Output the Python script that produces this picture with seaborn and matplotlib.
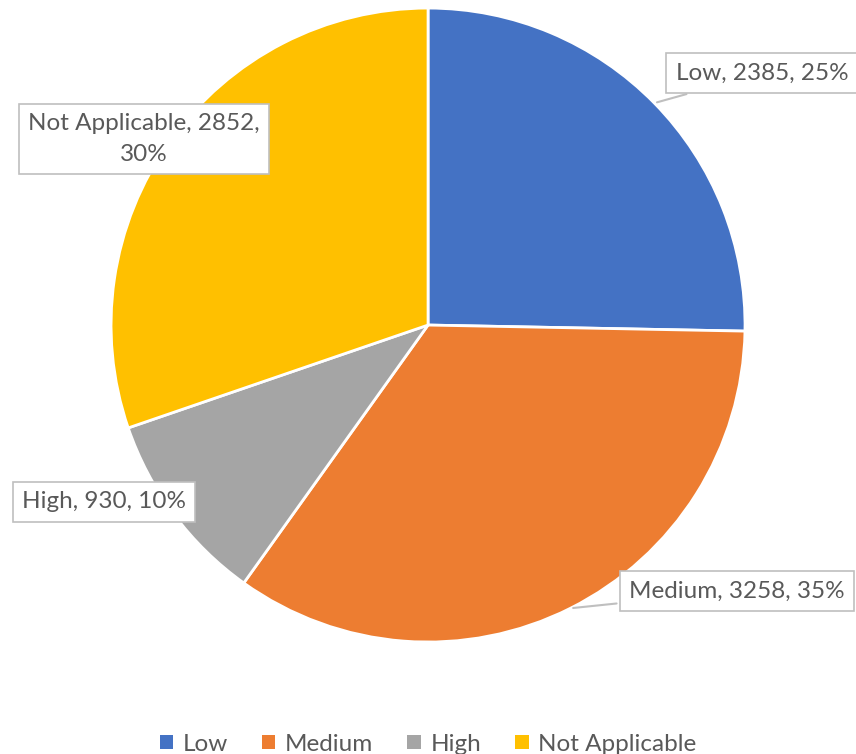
import numpy as np
import seaborn as sns
import matplotlib.pyplot as plt
from matplotlib.patches import Patch

categories = ['Low', 'Medium', 'High', 'Not Applicable']
counts = [2385, 3258, 930, 2852]
colors = ['#4472C4', '#ED7D31', '#A5A5A5', '#FFC000']

sns.set_style('white')
plt.rcParams['font.family'] = ['Lato', 'DejaVu Sans']
text_color = '#595959'

fig = plt.figure(figsize=(8.56, 7.54), dpi=100)
ax = fig.add_axes([0.1297, 0.1485, 0.7407, 0.8408])
palette = sns.color_palette(colors)

wedges, _ = ax.pie(counts, colors=palette, startangle=90, counterclock=False,
                   radius=1, wedgeprops=dict(edgecolor='white', linewidth=2))
ax.set_xlim(-1, 1)
ax.set_ylim(-1, 1)
ax.set_aspect('equal')
ax.axis('off')

total = sum(counts)
# label box centres in figure pixels, and whether a leader line is drawn
label_pos = [(762, 681, True), (737, 163, True), (104, 252, False), (144, 615, False)]
texts = [f'{c}, {n}, {round(100 * n / total)}%' for c, n in zip(categories, counts)]
texts[3] = f'{categories[3]}, {counts[3]},\n{round(100 * counts[3] / total)}%'

for w, t, (px, py, lead) in zip(wedges, texts, label_pos):
    mid = np.deg2rad((w.theta1 + w.theta2) / 2)
    xy = (np.cos(mid), np.sin(mid))
    ax.annotate(t, xy=xy, xytext=(px, py), textcoords='figure pixels',
                ha='center', va='center', fontsize=17.5, color=text_color,
                linespacing=1.6, annotation_clip=False,
                bbox=dict(boxstyle='square,pad=0.38', fc='white', ec='#BFBFBF', lw=1.2),
                arrowprops=dict(arrowstyle='-', color='#BFBFBF', lw=1.5) if lead else None)

handles = [Patch(facecolor=c, edgecolor='none', label=l) for c, l in zip(palette, categories)]
fig.legend(handles=handles, loc='lower center', ncol=4, frameon=False,
           bbox_to_anchor=(0.5, -0.03), fontsize=17.5, handlelength=0.55, handleheight=0.55,
           handletextpad=0.4, columnspacing=1.4, labelcolor=text_color)

fig.savefig('out.png', dpi=100)
